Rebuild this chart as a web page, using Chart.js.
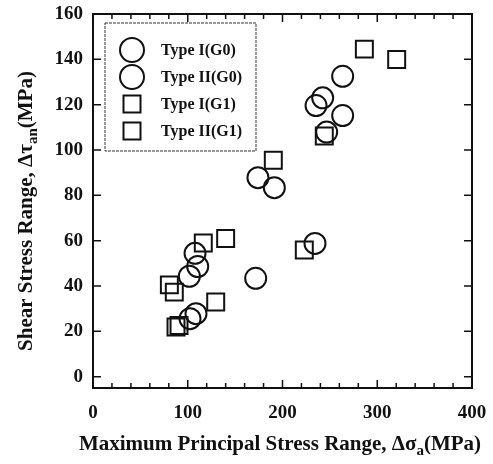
<!DOCTYPE html>
<html>
<head>
<meta charset="utf-8">
<script src="https://cdn.jsdelivr.net/npm/chart.js@4.4.0/dist/chart.umd.min.js"></script>
<style>
  html, body { margin: 0; padding: 0; background: #fff; }
  #wrap { width: 493px; height: 464px; position: relative; }
</style>
</head>
<body>
<div id="wrap"><canvas id="c" width="493" height="464"></canvas></div>
<script>
// ---- data ----
const seriesLabels = ['Type I(G0)', 'Type II(G0)', 'Type I(G1)', 'Type II(G1)'];

const typeI_G0_x  = [107.7, 110.5, 101.7, 108.7, 102.4, 171.7, 234.3];
const typeI_G0_y  = [54.4, 48.6, 44.3, 27.8, 25.6, 43.4, 58.8];

const typeII_G0_x = [263.5, 242.4, 235.4, 263.5, 246.6, 174.1, 191.4];
const typeII_G0_y = [132.5, 123.0, 119.6, 115.2, 107.9, 87.8, 83.4];

const typeI_G1_x  = [140.0, 116.4, 80.6, 85.8, 129.5, 90.8, 87.6];
const typeI_G1_y  = [61.0, 59.0, 40.5, 37.3, 32.9, 22.6, 21.9];

const typeII_G1_x = [286.4, 320.5, 244.1, 190.3, 223.0];
const typeII_G1_y = [144.5, 139.9, 106.2, 95.5, 55.9];

const xTickValues = [0, 100, 200, 300, 400];
const yTickValues = [0, 20, 40, 60, 80, 100, 120, 140, 160];
const xMinorStep = 20;

const xTitleParts = [{t: 'Maximum Principal Stress Range, \u0394\u03c3'}, {t: 'a', sub: true}, {t: '(MPa)'}];
const yTitleParts = [{t: 'Shear Stress Range, \u0394\u03c4'}, {t: 'an', sub: true}, {t: '(MPa)'}];

function pts(xs, ys) { return xs.map((x, i) => ({x: x, y: ys[i]})); }

const FONT = '"Liberation Serif", "Times New Roman", serif';
const INK = '#111';

function mk(label, xs, ys, style, r) {
  return {
    label: label,
    data: pts(xs, ys),
    pointStyle: style,
    pointRadius: r,
    pointHoverRadius: r,
    backgroundColor: 'rgba(0,0,0,0)',
    borderColor: INK,
    borderWidth: 2,
    showLine: false
  };
}

const datasets = [
  mk(seriesLabels[0], typeI_G0_x, typeI_G0_y, 'circle', 10.5),
  mk(seriesLabels[1], typeII_G0_x, typeII_G0_y, 'circle', 10.5),
  mk(seriesLabels[2], typeI_G1_x, typeI_G1_y, 'rect', 12),
  mk(seriesLabels[3], typeII_G1_x, typeII_G1_y, 'rect', 12)
];

function drawParts(ctx, parts, size) {
  const subSize = Math.round(size * 0.72);
  let w = 0;
  parts.forEach(p => {
    ctx.font = 'bold ' + (p.sub ? subSize : size) + 'px ' + FONT;
    p.w = ctx.measureText(p.t).width;
    w += p.w;
  });
  let x = -w / 2;
  ctx.textBaseline = 'middle';
  ctx.textAlign = 'left';
  parts.forEach(p => {
    ctx.font = 'bold ' + (p.sub ? subSize : size) + 'px ' + FONT;
    ctx.fillText(p.t, x, p.sub ? size * 0.28 : 0);
    x += p.w;
  });
}

const framePlugin = {
  id: 'frame',
  afterDraw(chart) {
    const ctx = chart.ctx;
    const a = chart.chartArea;
    const xs = chart.scales.x, ys = chart.scales.y;
    ctx.save();
    ctx.strokeStyle = INK;
    ctx.fillStyle = INK;
    // frame
    ctx.lineWidth = 2;
    ctx.strokeRect(a.left, a.top, a.right - a.left, a.bottom - a.top);
    // x ticks (top and bottom, inward)
    ctx.lineWidth = 1.5;
    for (let v = xs.min; v <= xs.max; v += xMinorStep) {
      const px = xs.getPixelForValue(v);
      const major = xTickValues.indexOf(v) >= 0;
      const len = major ? 8 : 5;
      ctx.beginPath();
      ctx.moveTo(px, a.bottom); ctx.lineTo(px, a.bottom - len);
      ctx.moveTo(px, a.top); ctx.lineTo(px, a.top + len);
      ctx.stroke();
    }
    // y ticks (left and right, inward)
    yTickValues.forEach(v => {
      const py = ys.getPixelForValue(v);
      ctx.beginPath();
      ctx.moveTo(a.left, py); ctx.lineTo(a.left + 8, py);
      ctx.moveTo(a.right, py); ctx.lineTo(a.right - 8, py);
      ctx.stroke();
    });
    // axis titles
    ctx.save();
    ctx.translate(280, 445);
    drawParts(ctx, xTitleParts, 21);
    ctx.restore();
    ctx.save();
    ctx.translate(27, 211);
    ctx.rotate(-Math.PI / 2);
    drawParts(ctx, yTitleParts, 21);
    ctx.restore();
    // legend
    const lx = a.left + 12, ly = a.top + 9, lw = 151, lh = 128;
    ctx.lineWidth = 1;
    ctx.strokeStyle = '#333';
    ctx.setLineDash([3, 1]);
    ctx.strokeRect(lx, ly, lw, lh);
    ctx.setLineDash([]);
    ctx.strokeStyle = INK;
    ctx.lineWidth = 2;
    ctx.font = 'bold 16px ' + FONT;
    ctx.textBaseline = 'middle';
    ctx.textAlign = 'left';
    chart.data.datasets.forEach((ds, i) => {
      const cy = ly + 27 + i * 27;
      const cx = lx + 27;
      ctx.beginPath();
      if (ds.pointStyle === 'circle') {
        ctx.arc(cx, cy, 12, 0, Math.PI * 2);
      } else {
        ctx.rect(cx - 8.5, cy - 8.5, 17, 17);
      }
      ctx.stroke();
      ctx.fillText(ds.label, lx + 56, cy + 1);
    });
    ctx.restore();
  }
};

new Chart(document.getElementById('c'), {
  type: 'scatter',
  data: { datasets: datasets },
  options: {
    responsive: false,
    animation: false,
    events: [],
    layout: { padding: { left: 0, right: 21, top: 14, bottom: 0 } },
    plugins: { legend: { display: false }, tooltip: { enabled: false } },
    scales: {
      x: {
        type: 'linear', min: 0, max: 400,
        afterBuildTicks(s) { s.ticks = xTickValues.map(v => ({value: v})); },
        afterFit(s) { s.height = 76; s.paddingLeft = 0; s.paddingRight = 0; },
        grid: { display: false, drawTicks: false },
        border: { display: false },
        ticks: { padding: 14, color: INK, font: { family: FONT, size: 19, weight: 'bold' }, maxRotation: 0 }
      },
      y: {
        type: 'linear', min: -5, max: 160,
        afterBuildTicks(s) { s.ticks = yTickValues.map(v => ({value: v})); },
        afterFit(s) { s.width = 93; s.paddingTop = 0; s.paddingBottom = 0; },
        grid: { display: false, drawTicks: false },
        border: { display: false },
        ticks: { padding: 10, color: INK, font: { family: FONT, size: 19, weight: 'bold' } }
      }
    }
  },
  plugins: [framePlugin]
});
</script>
</body>
</html>
